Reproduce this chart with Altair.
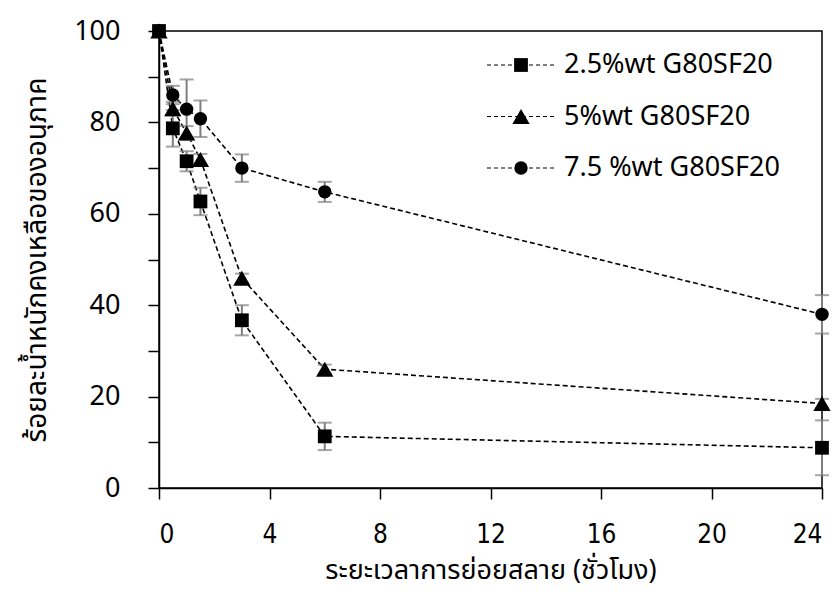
import altair as alt
import pandas as pd

# ---- data ----
time_h = [0, 0.5, 1, 1.5, 3, 6, 24]
series_names = ["2.5%wt G80SF20", "5%wt G80SF20", "7.5 %wt G80SF20"]
s25 = [100, 78.7, 71.5, 62.7, 36.7, 11.3, 8.8]
s25_err = [0, 4.0, 2.2, 3.0, 3.3, 3.0, 6.0]
s50 = [100, 83.0, 77.7, 71.9, 45.9, 26.0, 18.5]
s50_err = [0, 1.5, 1.5, 1.2, 1.0, 1.0, 1.0]
s75 = [100, 86.0, 82.9, 80.8, 70.0, 64.8, 38.0]
s75_err = [0, 2.0, 6.5, 4.0, 3.0, 2.2, 4.2]
x_ticks = [0, 4, 8, 12, 16, 20, 24]
y_ticks = [0, 10, 20, 30, 40, 50, 60, 70, 80, 90, 100]
x_title = "ระยะเวลาการย่อยสลาย (ชั่วโมง)"
y_title = "ร้อยละน้ำหนักคงเหลือของอนุภาค"
shapes = ["square", "triangle-up", "circle"]
marker_sizes = [190, 300, 180]

rows = []
for name, vals, errs in zip(series_names, [s25, s50, s75], [s25_err, s50_err, s75_err]):
    for t, v, e in zip(time_h, vals, errs):
        rows.append({"series": name, "t": t, "v": v, "lo": v - e, "hi": v + e})
df = pd.DataFrame(rows)
df_err = df[df["hi"] > df["lo"]]
leg = pd.DataFrame({"series": series_names})

W, H = 663, 457
THAI = "Noto Sans Thai, Loma, Garuda, Tlwg Typo, Noto Sans, sans-serif"
LAT = "Noto Sans, Open Sans, sans-serif"
COND = "Liberation Sans Narrow, DejaVu Sans Condensed, Noto Sans, sans-serif"

xscale = alt.Scale(domain=[0, 24], nice=False, zero=False)
yscale = alt.Scale(domain=[0, 100], nice=False)

xenc = alt.X("t:Q", scale=xscale,
             axis=alt.Axis(values=x_ticks, title=x_title, grid=False,
                           labelFont=COND, labelFontSize=26, labelPadding=22, tickSize=11,
                           titleFont=THAI, titleFontSize=27, titleFontWeight="normal",
                           titlePadding=10))
yenc = alt.Y("v:Q", scale=yscale,
             axis=alt.Axis(values=y_ticks, title=y_title, grid=False,
                           labelExpr="datum.value % 20 == 0 ? datum.label : ''",
                           labelFont=LAT, labelFontSize=27, labelPadding=28, tickSize=11,
                           titleFont=THAI, titleFontSize=28, titleFontWeight="normal",
                           titlePadding=22))

lines = alt.Chart(df).mark_line(color="black", strokeDash=[5, 3], strokeWidth=1.6).encode(
    x=xenc, y=yenc, detail="series:N")

err_rule = alt.Chart(df_err).mark_rule(color="#7f7f7f", strokeWidth=2).encode(
    x="t:Q", y="lo:Q", y2="hi:Q")
cap_lo = alt.Chart(df_err).mark_tick(color="#7f7f7f", orient="horizontal", size=14,
                                     thickness=2).encode(x="t:Q", y="lo:Q")
cap_hi = alt.Chart(df_err).mark_tick(color="#7f7f7f", orient="horizontal", size=14,
                                     thickness=2).encode(x="t:Q", y="hi:Q")

pt_layers = []
for name, shp, sz in zip(series_names, shapes, marker_sizes):
    pt_layers.append(
        alt.Chart(df).transform_filter(alt.datum.series == name)
        .mark_point(filled=True, color="black", opacity=1, shape=shp, size=sz)
        .encode(x="t:Q", y="v:Q"))

main = alt.layer(lines, err_rule, cap_lo, cap_hi, *pt_layers)

# ---- manual legend ----
ly = alt.Y("series:N", scale=alt.Scale(type="point", domain=series_names,
                                        range=[34, 137], padding=0), axis=None)
leg_line = alt.Chart(leg).mark_rule(color="black", strokeDash=[4, 3], strokeWidth=1.2).encode(
    x=alt.value(328), x2=alt.value(395), y=ly)
leg_pts = []
for name, shp, sz in zip(series_names, shapes, marker_sizes):
    leg_pts.append(
        alt.Chart(leg).transform_filter(alt.datum.series == name)
        .mark_point(filled=True, color="black", opacity=1, shape=shp, size=sz)
        .encode(x=alt.value(362), y=ly))
leg_txt = alt.Chart(leg).mark_text(align="left", baseline="middle", font=LAT, fontSize=27,
                                   color="black").encode(
    x=alt.value(405), y=ly, text="series:N")
legend = alt.layer(leg_line, *leg_pts, leg_txt)

chart = alt.layer(main, legend).resolve_scale(y="independent").properties(
    width=W, height=H,
    autosize=alt.AutoSizeParams(type="none"),
    padding={"left": 159, "top": 31, "right": 17, "bottom": 106},
).configure_view(stroke="black", strokeWidth=1.5).configure_axis(
    domainColor="black", domainWidth=1.5, tickColor="black", tickWidth=1.5,
    labelColor="black", titleColor="black")

chart.save("out.html", embed_options={"renderer": "svg", "actions": False})
